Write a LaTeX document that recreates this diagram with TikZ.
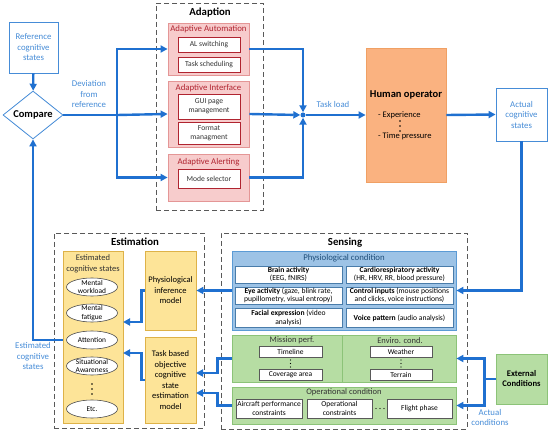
\documentclass[tikz,border=0pt]{standalone}
\usepackage{fontspec}
\setmainfont{Carlito}
\usetikzlibrary{shapes.geometric,arrows.meta}

\definecolor{flowblue}{RGB}{31,112,208}
\definecolor{lightblue}{RGB}{70,140,215}
\definecolor{adfill}{RGB}{247,204,204}
\definecolor{addraw}{RGB}{228,150,150}
\definecolor{adred}{RGB}{176,36,48}
\definecolor{hofill}{RGB}{250,178,128}
\definecolor{hodraw}{RGB}{240,160,100}
\definecolor{esfill}{RGB}{253,228,152}
\definecolor{esdraw}{RGB}{222,178,72}
\definecolor{pcfill}{RGB}{157,195,230}
\definecolor{pcdraw}{RGB}{91,155,213}
\definecolor{pcblue}{RGB}{31,78,121}
\definecolor{grfill}{RGB}{182,221,163}
\definecolor{grdraw}{RGB}{140,195,120}

\begin{document}
\begin{tikzpicture}[x=1pt, y=-1pt,
    every node/.style={font=\fontsize{7.5}{9}\selectfont, inner sep=1pt, align=center},
    flow/.style={draw=flowblue, line width=2.4pt, -{Triangle[length=7pt,width=7pt]}},
    link/.style={draw=flowblue, line width=2.4pt},
    group/.style={draw=gray!70!black, line width=0.9pt, dash pattern=on 5pt off 3pt},
    title/.style={font=\bfseries\fontsize{10.8}{12}\selectfont},
    outline/.style={draw=lightblue, fill=white, line width=0.8pt, text=lightblue},
    adbox/.style={draw=addraw, fill=adfill, line width=0.8pt},
    adtitle/.style={text=adred, font=\fontsize{8.8}{10}\selectfont},
    adsub/.style={draw=adred, fill=white, line width=0.6pt, text=black!80, font=\fontsize{7.6}{8.8}\selectfont},
    pcsub/.style={draw=pcdraw!80!black, fill=white, line width=0.6pt, inner sep=0.3pt, font=\fontsize{7.6}{8.4}\selectfont},
    grbox/.style={draw=grdraw, fill=grfill, line width=0.8pt},
    grtitle/.style={text=black!80, font=\fontsize{8.5}{9}\selectfont},
    grsub/.style={draw=gray!70!black, fill=white, line width=0.5pt, font=\fontsize{7.5}{8.4}\selectfont},
    esbox/.style={draw=esdraw, fill=esfill, line width=0.8pt},
    state/.style={ellipse, draw=black!70, fill=white, line width=0.6pt, inner xsep=0pt, inner ysep=-3pt,
      minimum width=51pt, minimum height=18pt, font=\fontsize{7.4}{8.4}\selectfont},
    note/.style={text=lightblue, font=\fontsize{8.8}{10.5}\selectfont}]

    \useasboundingbox (0,0) rectangle (550,433);

    % Comparison
    \node[outline, minimum width=49pt, minimum height=51pt, font=\fontsize{8.8}{10.5}\selectfont] (ref) at (33.5,47.5) {Reference\\cognitive\\states};
    \node[diamond, draw=lightblue, fill=white, line width=0.8pt, minimum width=60pt, minimum height=45pt,
      inner sep=0pt, font=\bfseries\fontsize{10.5}{11}\selectfont] (cmp) at (33,115) {Compare};
    \node[note] (dev) at (89,94) {Deviation\\from\\reference};

    % Adaption
    \node[group, minimum width=107pt, minimum height=207pt] (adapt) at (209.5,106.5) {};
    \node[title] (adaptt) at (210,13) {Adaption};
    \node[adbox, minimum width=81pt, minimum height=52pt] (auto) at (208.5,49) {};
    \node[adtitle] (autot) at (208.5,29.5) {Adaptive Automation};
    \node[adsub, minimum width=62pt, minimum height=15pt] (als) at (209,44.5) {AL switching};
    \node[adsub, minimum width=62pt, minimum height=15pt] (tsch) at (209,64.5) {Task scheduling};
    \node[adbox, minimum width=81pt, minimum height=66pt] (iface) at (208.5,114) {};
    \node[adtitle] (ifacet) at (208.5,88.5) {Adaptive Interface};
    \node[adsub, minimum width=62pt, minimum height=25pt] (gui) at (209,106.5) {GUI page\\management};
    \node[adsub, minimum width=62pt, minimum height=22pt] (fmt) at (209,133) {Format\\managment};
    \node[adbox, minimum width=81pt, minimum height=47pt] (alert) at (208.5,177.5) {};
    \node[adtitle] (alertt) at (208.5,162) {Adaptive Alerting};
    \node[adsub, minimum width=62pt, minimum height=19pt] (mode) at (209,178.5) {Mode selector};

    % Operator
    \node[circle, fill=flowblue, inner sep=0pt, minimum size=5pt] (dot) at (303,115) {};
    \node[note] (load) at (333,104) {Task load};
    \node[draw=hodraw, fill=hofill, line width=0.8pt, minimum width=80pt, minimum height=134pt] (ho) at (406,115) {};
    \node[font=\bfseries\fontsize{10.5}{11}\selectfont] (hot) at (406,95) {Human operator};
    \node[anchor=west, font=\fontsize{8.5}{9}\selectfont] (exp) at (377,115) {- Experience};
    \node[anchor=west, font=\fontsize{8.5}{9}\selectfont] (tp) at (377,136) {- Time pressure};
    \foreach \y in {121,126,131} {
        \fill (400,\y) circle (0.8);
    }
    \node[outline, minimum width=51pt, minimum height=53pt, font=\fontsize{8.8}{10.5}\selectfont] (act) at (521.5,114.5) {Actual\\cognitive\\states};

    % Sensing
    \node[group, minimum width=246pt, minimum height=196pt] (sense) at (344,331) {};
    \node[title] (senset) at (345,243) {Sensing};
    \node[draw=pcdraw, fill=pcfill, line width=0.8pt, minimum width=224pt, minimum height=79pt] (phys) at (344,290.5) {};
    \node[text=pcblue, font=\fontsize{8.8}{9}\selectfont] (physt) at (344,258.5) {Physiological condition};
    \node[pcsub, minimum width=107pt, minimum height=17pt] (brain) at (288.5,274.5) {\textbf{Brain activity}\\(EEG, fNIRS)};
    \node[pcsub, minimum width=107pt, minimum height=17pt] (cardio) at (399.5,274.5) {\textbf{Cardiorespiratory activity}\\(HR, HRV, RR, blood pressure)};
    \node[pcsub, minimum width=107pt, minimum height=17pt] (eye) at (288.5,295.5) {\textbf{Eye activity} (gaze, blink rate,\\pupillometry, visual entropy)};
    \node[pcsub, minimum width=107pt, minimum height=17pt] (ctrl) at (399.5,295.5) {\textbf{Control inputs} (mouse positions\\and clicks, voice instructions)};
    \node[pcsub, minimum width=107pt, minimum height=19pt] (face) at (288.5,318) {\textbf{Facial expression} (video\\analysis)};
    \node[pcsub, minimum width=107pt, minimum height=19pt] (voice) at (399.5,318) {\textbf{Voice pattern} (audio analysis)};

    \node[grbox, minimum width=110pt, minimum height=47pt] (miss) at (287,358.5) {};
    \node[grbox, minimum width=114pt, minimum height=47pt] (env) at (399,358.5) {};
    \node[grtitle] (misst) at (292,340.5) {Mission perf.};
    \node[grtitle] (envt) at (400,340.5) {Enviro. cond.};
    \node[grsub, minimum width=63pt, minimum height=11pt] (tl) at (290.5,351.5) {Timeline};
    \node[grsub, minimum width=63pt, minimum height=11pt] (cov) at (290.5,374.5) {Coverage area};
    \node[grsub, minimum width=62pt, minimum height=11pt] (wth) at (401,351.5) {Weather};
    \node[grsub, minimum width=62pt, minimum height=11pt] (ter) at (401,374.5) {Terrain};
    \foreach \y in {360,363.5,367} {
        \fill (290.5,\y) circle (0.6);
        \fill (401,\y) circle (0.6);
    }
    \node[grbox, minimum width=224pt, minimum height=37pt] (oper) at (344,405.5) {};
    \node[grtitle] (opert) at (344,392.5) {Operational condition};
    \node[grsub, minimum width=66pt, minimum height=19pt] (acp) at (269,408.5) {Aircraft performance\\constraints};
    \node[grsub, minimum width=65pt, minimum height=19pt] (opc) at (339.5,408.5) {Operational\\constraints};
    \node[grsub, minimum width=65pt, minimum height=19pt] (fph) at (419.5,408.5) {Flight phase};
    \foreach \x in {376,380,384} {
        \fill (\x,408.5) circle (0.6);
    }
    \node[grbox, minimum width=51pt, minimum height=50pt, font=\bfseries\fontsize{8.6}{10}\selectfont] (ext) at (521.5,379) {External\\Conditions};
    \node[note, anchor=north] (actc) at (490,408) {Actual\\conditions};

    % Estimation
    \node[group, minimum width=150pt, minimum height=195pt] (est) at (129,330.5) {};
    \node[title] (estt) at (135,242) {Estimation};
    \node[esbox, minimum width=60pt, minimum height=172pt] (ecs) at (93,337) {};
    \node[font=\fontsize{8.5}{10.5}\selectfont, text=black!80] (ecst) at (93,264) {Estimated\\cognitive states};
    \node[state] (mw) at (92,287) {Mental\\workload};
    \node[state] (mf) at (92,313) {Mental\\fatigue};
    \node[state] (att) at (92,340) {Attention};
    \node[state] (sa) at (92,366) {Situational\\Awareness};
    \node[state] (etc) at (92,409) {Etc.};
    \foreach \y in {384,389,394} {
        \fill (92,\y) circle (0.8);
    }
    \node[esbox, minimum width=51pt, minimum height=79pt, font=\fontsize{8.5}{10.5}\selectfont] (pim) at (170.5,290.5) {Physiological\\inference\\model};
    \node[esbox, minimum width=51pt, minimum height=86pt, font=\fontsize{8.5}{10.5}\selectfont] (tbm) at (170.5,380) {Task based\\objective\\cognitive\\state\\estimation\\model};
    \node[note] (estc) at (33,356) {Estimated\\cognitive\\states};

    % Free ends
    \coordinate (split) at (117,115);
    \coordinate (e1) at (123,322);
    \coordinate (e2) at (123,353);
    \coordinate (t1) at (196,373);
    \coordinate (t2) at (196,393);

    % Connectors
    \draw[flow] (ref) -- (cmp);
    \draw[link] (cmp.east) -- (split);
    \draw[flow] (split) |- (auto.west);
    \draw[flow] (split) -- (iface.west);
    \draw[flow] (split) |- (alert.west);
    \draw[flow] (auto.east) -| (dot.north);
    \draw[flow] (iface.east) -- (dot.west);
    \draw[flow] (alert.east) -| (dot.south);
    \draw[flow] (dot) -- (ho.west);
    \draw[flow] (ho.east) -- (act.west);
    \draw[flow] (act.south) |- (phys.east);
    \draw[flow] (ext.west) -- ++(-11,0) |- (env.east);
    \draw[flow] (ext.west) -- ++(-11,0) |- (oper.east);
    \draw[flow] (phys.west) -- (pim.east);
    \draw[flow] (miss.west) -- ++(-14,0) |- (t1);
    \draw[flow] (oper.west) -- ++(-14,0) |- (t2);
    \draw[flow] (pim.west) -- ++(-3,0) |- (e1);
    \draw[flow] (tbm.west) -- ++(-3,0) |- (e2);
    \draw[flow] (ecs.west |- att) -| (cmp.south);

\end{tikzpicture}
\end{document}
